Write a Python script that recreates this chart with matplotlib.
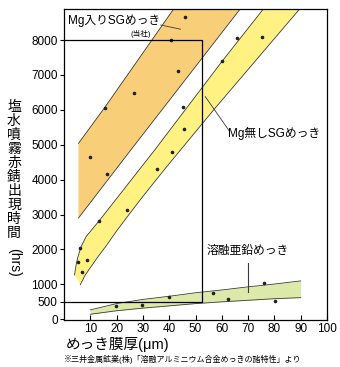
import numpy as np
import matplotlib
matplotlib.use('Agg')
import matplotlib.pyplot as plt

plt.rcParams['font.family'] = ['Liberation Sans', 'Noto Sans CJK JP']

# Mg入りSGめっき band (orange)
mg_up_x = [5.5, 15.6, 41.6]
mg_up_y = [5040, 6080, 8880]
mg_lo_x = [5.5, 25.4, 66.9]
mg_lo_y = [2900, 4850, 8880]
mg_pts_x = [9.9, 16.2, 15.6, 26.8, 43.2, 40.5, 46.0]
mg_pts_y = [4650, 4160, 6040, 6470, 7120, 8000, 8670]

# Mg無しSGめっき band (yellow)
nomg_up_x = [4.0, 4.6, 5.3, 6.5, 8.4, 13.4, 34.8, 60.0, 75.7]
nomg_up_y = [1270, 1560, 1790, 2080, 2370, 2825, 4880, 7380, 8880]
nomg_lo_x = [6.2, 8.0, 10.3, 13.0, 16.0, 20.0, 25.0, 30.0, 38.6, 56.8, 89.5]
nomg_lo_y = [990, 1260, 1510, 1800, 2100, 2530, 3030, 3520, 4330, 5990, 8880]
nomg_pts_x = [6.9, 5.5, 8.8, 6.2, 13.4, 23.9, 35.5, 41.1, 45.5, 45.3, 60.0, 65.7, 75.3]
nomg_pts_y = [1364, 1650, 1699, 2052, 2825, 3132, 4298, 4780, 5444, 6092, 7405, 8050, 8100]

# 溶融亜鉛めっき band (green)
zn_x = [10, 20, 30, 40, 50, 60, 70, 80, 90]
zn_up = [270, 450, 570, 660, 760, 840, 930, 1010, 1100]
zn_lo = [145, 245, 320, 385, 450, 500, 545, 590, 620]
zn_pts_x = [19.9, 29.8, 39.9, 56.8, 62.5, 76.0, 80.1]
zn_pts_y = [390, 410, 630, 762, 595, 1031, 530]

# frame drawn on the plot (8000 h / 52.5 um)
box_x = [0, 52.5, 52.5, 0]
box_y = [8000, 8000, 500, 500]

xticks = [10, 20, 30, 40, 50, 60, 70, 80, 90, 100]
yticks = [0, 500, 1000, 2000, 3000, 4000, 5000, 6000, 7000, 8000]

ylabel_chars = ['塩', '水', '噴', '霧', '赤', '錆', '出', '現', '時', '間']

fig = plt.figure(figsize=(3.4, 3.67), dpi=100)
ax = fig.add_axes([64/340, 47/367, 263/340, 310.7/367])

edge = '#3a3a3a'

# orange
ax.fill(mg_up_x + mg_lo_x[::-1], mg_up_y + mg_lo_y[::-1], color='#F9CE78', lw=0)
ax.plot(mg_up_x, mg_up_y, color=edge, lw=0.6)
ax.plot(mg_lo_x, mg_lo_y, color=edge, lw=0.6)
ax.plot(mg_pts_x, mg_pts_y, 'o', color='#222222', ms=1.6)

# yellow
ax.fill(nomg_up_x + nomg_lo_x[::-1], nomg_up_y + nomg_lo_y[::-1], color='#FFF283', lw=0)
ax.plot(nomg_up_x, nomg_up_y, color=edge, lw=0.6)
ax.plot(nomg_lo_x, nomg_lo_y, color=edge, lw=0.6)
ax.plot(nomg_pts_x, nomg_pts_y, 'o', color='#222222', ms=1.6)

# green
ax.fill_between(zn_x, zn_lo, zn_up, color='#DDE9A8', lw=0)
ax.plot(zn_x, zn_up, color=edge, lw=0.6)
ax.plot(zn_x, zn_lo, color=edge, lw=0.6)
ax.plot(zn_pts_x, zn_pts_y, 'o', color='#222222', ms=1.6)

ax.plot(box_x, box_y, color='black', lw=0.9, clip_on=False)

# labels
ax.text(1.6, 8560, 'Mg入りSGめっき', fontsize=8.5, va='center', ha='left')
ax.text(29.2, 8180, '(当社)', fontsize=5.5, va='center', ha='center')
ax.plot([36.8, 44.3], [8430, 8310], color=edge, lw=0.6)

ax.text(62.5, 5330, 'Mg無しSGめっき', fontsize=8.5, va='center', ha='left')
ax.plot([53.7, 62.8], [6380, 5400], color=edge, lw=0.6)

ax.text(70, 1950, '溶融亜鉛めっき', fontsize=8.5, va='center', ha='center')
ax.plot([70, 70], [1600, 790], color=edge, lw=0.8)

ax.set_xlim(0, 100)
ax.set_ylim(-20, 8880)
ax.set_xticks(xticks)
ax.set_xticklabels([str(t) for t in xticks])
ax.set_yticks(yticks)
ax.set_yticklabels([str(t) for t in yticks])
ax.tick_params(axis='x', direction='in', length=3.5, width=0.8, labelsize=8.5, pad=2)
ax.tick_params(axis='y', direction='out', length=3, width=0.8, labelsize=8.5, pad=1.5)
for s in ax.spines.values():
    s.set_linewidth(0.9)

# vertical y label
for i, ch in enumerate(ylabel_chars):
    fig.text(14/340, 1 - (107 + 14*i)/367, ch, fontsize=10, ha='center', va='center')
fig.text(14/340, 1 - 262/367, '(hrs)', fontsize=10, ha='center', va='center', rotation=270)

fig.text(66/340, 1 - 344/367, 'めっき膜厚(μm)', fontsize=10.5, ha='left', va='center')
fig.text(64/340, 1 - 359/367, '※三井金属鉱業(株)「溶融アルミニウム合金めっきの諸特性」より',
         fontsize=5.8, ha='left', va='center')

fig.savefig('out.png', dpi=100)
